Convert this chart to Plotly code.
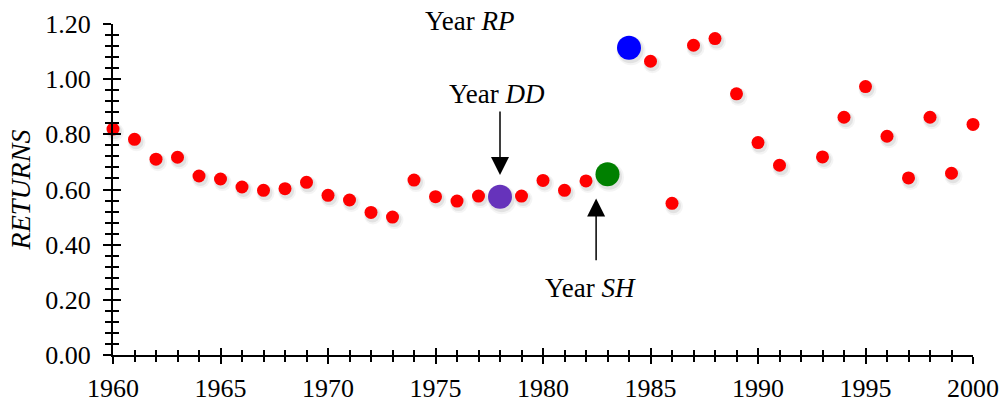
import numpy as np
import plotly.graph_objects as go

# Annual returns, 1960-2000 (no observation for 1992)
years = [1960, 1961, 1962, 1963, 1964, 1965, 1966, 1967, 1968, 1969,
         1970, 1971, 1972, 1973, 1974, 1975, 1976, 1977, 1978, 1979,
         1980, 1981, 1982, 1983, 1984, 1985, 1986, 1987, 1988, 1989,
         1990, 1991, 1993, 1994, 1995, 1996, 1997, 1998, 1999, 2000]
returns = [0.819, 0.782, 0.710, 0.717, 0.649, 0.638, 0.609, 0.597, 0.603, 0.626,
           0.579, 0.562, 0.517, 0.500, 0.634, 0.574, 0.558, 0.576, 0.574, 0.576,
           0.633, 0.597, 0.631, 0.655, 1.114, 1.065, 0.550, 1.123, 1.147, 0.947,
           0.770, 0.688, 0.718, 0.862, 0.973, 0.793, 0.642, 0.862, 0.659, 0.836]

# Highlighted years
special_years = {"DD": 1978, "SH": 1983, "RP": 1984}
special_colors = {"DD": "#6633BB", "SH": "#008000", "RP": "#0000FF"}

x_range = [1960, 2000]
y_range = [0, 1.2]

W, H = 1005, 402
M = dict(l=113, r=32, t=24, b=47)
px_per_year = (W - M["l"] - M["r"]) / (x_range[1] - x_range[0])
px_per_unit = (H - M["t"] - M["b"]) / (y_range[1] - y_range[0])

FONT = "Liberation Serif, Times New Roman, serif"

yrs = np.array(years, dtype=float)
rets = np.array(returns, dtype=float)
is_special = np.isin(yrs, list(special_years.values()))

fig = go.Figure()

# soft drop shadow under every dot
sizes = np.where(is_special, 24, 13)
for grow, alpha, dx, dy in [(5, 0.06, 2.0, 3.0), (2, 0.10, 1.5, 2.5)]:
    fig.add_trace(go.Scatter(
        x=yrs + dx / px_per_year, y=rets - dy / px_per_unit, mode="markers",
        marker=dict(size=sizes + grow, color=f"rgba(0,0,0,{alpha})", line=dict(width=0)),
        cliponaxis=False, hoverinfo="skip", showlegend=False))

# ordinary years
fig.add_trace(go.Scatter(
    x=yrs[~is_special], y=rets[~is_special], mode="markers",
    marker=dict(size=13, color="#FF0000", line=dict(width=0)),
    cliponaxis=False, showlegend=False))

# highlighted years
for key, yr in special_years.items():
    fig.add_trace(go.Scatter(
        x=[yr], y=[rets[yrs == yr][0]], mode="markers",
        marker=dict(size=24, color=special_colors[key], line=dict(width=0)),
        cliponaxis=False, showlegend=False))

# companion axes carrying the inward half of the cross ticks
fig.add_trace(go.Scatter(x=[None], y=[None], xaxis="x2", yaxis="y2",
                         showlegend=False, hoverinfo="skip"))

tick_font = dict(family=FONT, size=26, color="black")

common_x = dict(range=x_range, showgrid=False, zeroline=False, tick0=1960, dtick=5,
                tickwidth=2, tickcolor="black", ticklen=7, automargin=False)
common_y = dict(range=y_range, showgrid=False, zeroline=False, tick0=0, dtick=0.2,
                tickwidth=2, tickcolor="black", ticklen=8, automargin=False)

fig.update_layout(
    width=W, height=H, margin=M,
    paper_bgcolor="white", plot_bgcolor="white",
    xaxis=dict(**common_x, ticks="outside", showline=True, linecolor="black", linewidth=2,
               tickfont=tick_font, ticklabelstandoff=2,
               minor=dict(ticks="outside", dtick=1, ticklen=5, tickwidth=2, tickcolor="black")),
    yaxis=dict(**common_y, ticks="outside", showline=True, linecolor="black", linewidth=2,
               tickformat=".2f", tickfont=tick_font, ticklabelstandoff=7,
               minor=dict(ticks="outside", dtick=0.04, ticklen=6, tickwidth=2, tickcolor="black"),
               title=dict(text="<i>RETURNS</i>", font=dict(family=FONT, size=28, color="black"),
                          standoff=6)),
    xaxis2=dict(**common_x, overlaying="x", anchor="y", ticks="inside", showticklabels=False,
                minor=dict(ticks="inside", dtick=1, ticklen=5, tickwidth=2, tickcolor="black")),
    yaxis2=dict(**common_y, overlaying="y", anchor="x", side="left", ticks="inside",
                showticklabels=False,
                minor=dict(ticks="inside", dtick=0.04, ticklen=6, tickwidth=2, tickcolor="black")),
)

ann_font = dict(family=FONT, size=27, color="black")

# labels: (text, x in years, y in returns units)
labels = [("Year <i>RP</i>", 1976.6, 1.211),
          ("Year <i>DD</i>", 1977.84, 0.946),
          ("Year <i>SH</i>", 1982.19, 0.243)]
for text, lx, ly in labels:
    fig.add_annotation(x=lx, y=ly / y_range[1], xref="x", yref="paper", text=text,
                       showarrow=False, font=ann_font, xanchor="center", yanchor="middle")

# arrows: (x, tip y, tail y)
arrows = [(1978.0, 0.653, 0.888), (1982.47, 0.567, 0.338)]
for axx, tip, tail in arrows:
    fig.add_annotation(x=axx, y=tip, ax=axx, ay=tail, xref="x", yref="y",
                       axref="x", ayref="y", text="", showarrow=True,
                       arrowhead=2, arrowsize=2.4, arrowwidth=1.5, arrowcolor="black")

fig.write_html("out.html")
